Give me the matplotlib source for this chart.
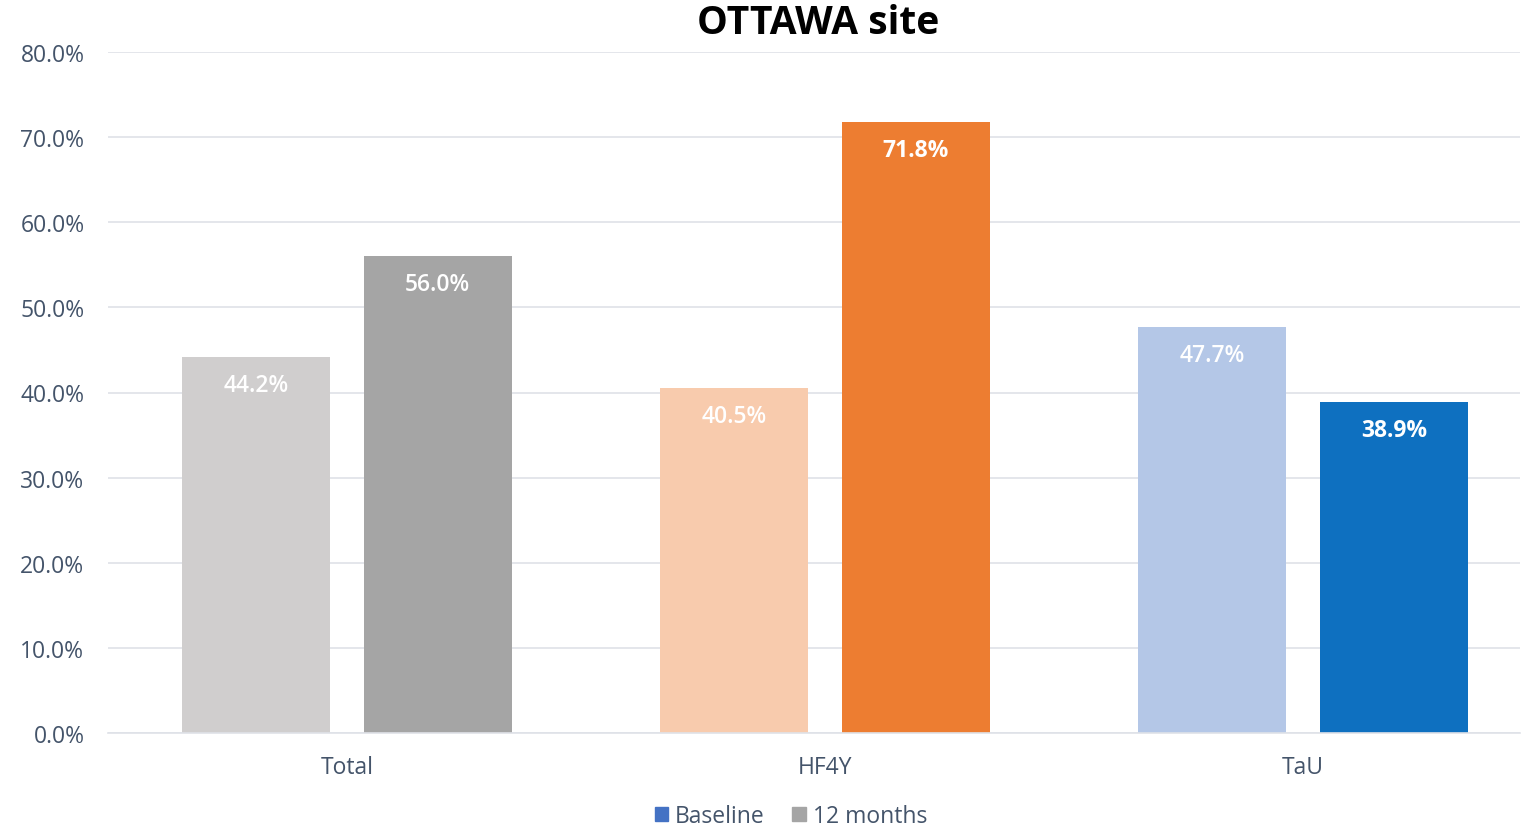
import matplotlib.pyplot as plt
import numpy as np
from matplotlib.patches import Patch

# data
categories = ["Total", "HF4Y", "TaU"]
baseline = [44.2, 40.5, 47.7]
months_12 = [56.0, 71.8, 38.9]
y_ticks = [0, 10, 20, 30, 40, 50, 60, 70, 80]

# colours per category (light = baseline, dark = 12 months)
light_colors = ["#D0CECE", "#F8CBAD", "#B4C7E7"]
dark_colors = ["#A5A5A5", "#ED7D31", "#0E70C0"]

plt.rcParams['font.family'] = ['Open Sans', 'DejaVu Sans']
text_color = "#44546A"

fig = plt.figure(figsize=(15.22, 8.29), dpi=100)
ax = fig.add_axes([108 / 1522, 1 - 734 / 829, (1520 - 108) / 1522, (734 - 53) / 829])

x = np.arange(len(categories))
width = 0.31
offset = 0.19

bars_b = ax.bar(x - offset, baseline, width, color=light_colors, zorder=2)
bars_m = ax.bar(x + offset, months_12, width, color=dark_colors, zorder=2)

for bar, v in zip(bars_b, baseline):
    ax.text(bar.get_x() + bar.get_width() / 2, v - 3.3, f"{v:.1f}%",
            ha="center", va="center", color="white", fontsize=16.5,
            fontweight="semibold")
for i, (bar, v) in enumerate(zip(bars_m, months_12)):
    ax.text(bar.get_x() + bar.get_width() / 2, v - 3.3, f"{v:.1f}%",
            ha="center", va="center", color="white", fontsize=16.5,
            fontweight="semibold" if i == 0 else "bold")

ax.set_ylim(0, 80)
ax.set_xlim(-0.5, 2.454)
ax.set_yticks(y_ticks)
ax.set_yticklabels([f"{t:.1f}%" for t in y_ticks])
ax.set_xticks(x)
ax.set_xticklabels(categories)
ax.tick_params(axis="both", length=0, labelsize=16.5, colors=text_color)
ax.tick_params(axis="y", pad=17)
ax.tick_params(axis="x", pad=16)
ax.yaxis.grid(True, color="#DFE2E8", linewidth=1.2, zorder=0)
ax.set_axisbelow(True)
for s in ["top", "right", "left"]:
    ax.spines[s].set_visible(False)
ax.spines["bottom"].set_color("#DFE2E8")
ax.spines["bottom"].set_linewidth(1.2)

fig.text(818 / 1522, 1 - 24 / 829, "OTTAWA site", ha="center", va="center",
         fontsize=28, fontweight="bold", color="black")

handles = [Patch(color="#4472C4", label="Baseline"),
           Patch(color="#A5A5A5", label="12 months")]
fig.legend(handles=handles, loc="center", bbox_to_anchor=(791 / 1522, 1 - 817 / 829),
           ncol=2, frameon=False, fontsize=16.5, handlelength=0.6, handleheight=0.6,
           handletextpad=0.3, columnspacing=1.2, labelcolor=text_color)

fig.savefig("out.png", dpi=100)
